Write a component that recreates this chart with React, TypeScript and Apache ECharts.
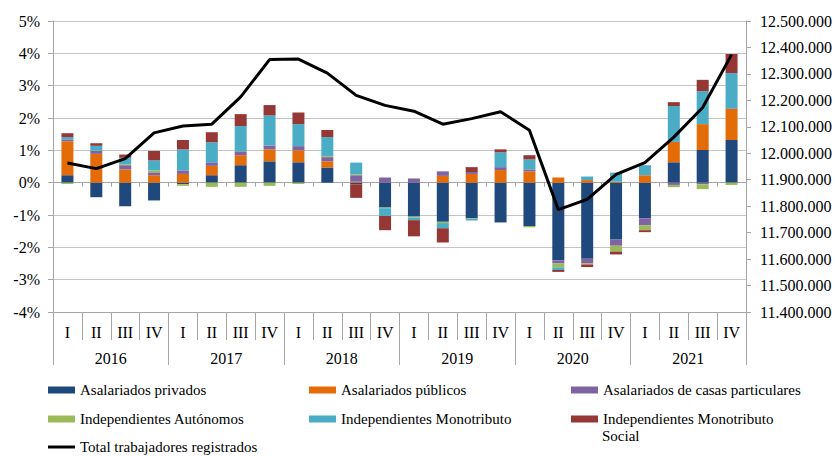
import React, { useEffect, useRef } from "react";
import * as echarts from "echarts";

const quarters = ["I","II","III","IV","I","II","III","IV","I","II","III","IV","I","II","III","IV","I","II","III","IV","I","II","III","IV"];
const years = ["2016", "2017", "2018", "2019", "2020", "2021"];
const leftTicks = { min: -4, max: 5, interval: 1 };
const rightTicks = { min: 11400000, max: 12500000, interval: 100000 };

const privados = [0.23,-0.45,-0.73,-0.55,-0.05,0.23,0.54,0.66,0.63,0.47,-0.05,-0.77,-1.05,-1.21,-1.10,-1.23,-1.34,-2.40,-2.35,-1.76,-1.10,0.63,1.01,1.32];
const publicos = [1.05,0.89,0.41,0.23,0.27,0.29,0.31,0.37,0.37,0.19,0.03,0,0,0.21,0.27,0.39,0.35,0.16,0.08,0.03,0.23,0.63,0.80,0.96];
const casas = [0.06,0.09,0.13,0.09,0.11,0.11,0.12,0.12,0.13,0.13,0.20,0.16,0.13,0.14,0.06,0.09,0.06,-0.10,-0.15,-0.19,-0.22,-0.07,-0.05,0.02];
const autonomos = [-0.04,0.01,0.03,0.06,-0.05,-0.13,-0.13,-0.10,-0.04,0.03,0.03,-0.02,-0.03,-0.04,-0.02,0,-0.04,-0.12,-0.03,-0.18,-0.15,-0.07,-0.15,-0.07];
const monotributo = [0.07,0.15,0.20,0.31,0.65,0.62,0.78,0.93,0.68,0.59,0.36,-0.24,-0.08,-0.16,-0.05,0.46,0.31,-0.08,0.11,0.28,0.31,1.11,1.02,1.09];
const social = [0.12,0.08,0.10,0.29,0.29,0.31,0.37,0.32,0.36,0.22,-0.42,-0.44,-0.50,-0.44,0.15,0.09,0.13,-0.06,-0.08,-0.09,-0.06,0.12,0.35,0.59];
const total = [11963000,11942000,11980000,12077000,12103000,12110000,12213000,12354000,12356000,12303000,12219000,12181000,12159000,12110000,12131000,12157000,12087000,11787000,11826000,11920000,11965000,12061000,12173000,12373000];

const FONT = "Liberation Serif";
const GRAY = "#a6a6a6";

const barSeries = [
  { name: "Asalariados privados", data: privados, color: "#1F497D" },
  { name: "Asalariados públicos", data: publicos, color: "#E36C09" },
  { name: "Asalariados de casas particulares", data: casas, color: "#8064A2" },
  { name: "Independientes Autónomos", data: autonomos, color: "#9BBB59" },
  { name: "Independientes Monotributo", data: monotributo, color: "#4BACC6" },
  { name: "Independientes Monotributo Social", data: social, color: "#953735" },
];
const lineName = "Total trabajadores registrados";

const legendPos = [
  { name: barSeries[0].name, left: 48, y: 390 },
  { name: barSeries[1].name, left: 309, y: 390 },
  { name: barSeries[2].name, left: 571, y: 390 },
  { name: barSeries[3].name, left: 48, y: 419 },
  { name: barSeries[4].name, left: 309, y: 419 },
  { name: barSeries[5].name, left: 571, y: 419 },
  { name: lineName, left: 48, y: 447 },
];

const fmtThousands = (v: number) => String(v).replace(/\B(?=(\d{3})+(?!\d))/g, ".");

export default function App() {
  const ref = useRef<HTMLDivElement>(null);
  useEffect(() => {
    if (!ref.current) return;
    const chart = echarts.init(ref.current, null, { renderer: "svg" });
    const option: any = {
      animation: false,
      backgroundColor: "#ffffff",
      textStyle: { fontFamily: FONT },
      grid: { left: 53, top: 21, width: 695, height: 291, containLabel: false },
      legend: legendPos.map((l) => {
        const isLine = l.name === lineName;
        return {
          data: [l.name],
          left: l.left,
          top: l.y - 9,
          padding: 0,
          itemWidth: 27,
          itemHeight: isLine ? 3 : 7,
          icon: "rect",
          selectedMode: false,
          formatter: (n: string) => (n === "Independientes Monotributo Social" ? "Independientes Monotributo" : n),
          textStyle: { fontFamily: FONT, fontSize: 15, color: "#000", lineHeight: 18 },
        };
      }),
      graphic: [
        {
          type: "text",
          left: 602,
          top: 437 - 9,
          style: { text: "Social", fontFamily: FONT, fontSize: 15, fill: "#000" },
        },
      ],
      xAxis: [
        {
          type: "category",
          data: quarters,
          position: "bottom",
          axisLine: { onZero: false, lineStyle: { color: GRAY, width: 1 } },
          axisTick: { show: true, length: 28, lineStyle: { color: GRAY } },
          axisLabel: { margin: 12, fontSize: 16, color: "#000", fontFamily: FONT, interval: 0 },
          splitLine: { show: false },
        },
        {
          type: "category",
          data: years,
          position: "bottom",
          axisLine: { onZero: false, lineStyle: { color: GRAY, width: 1 } },
          axisTick: { show: true, length: 53, lineStyle: { color: GRAY } },
          axisLabel: { margin: 38, fontSize: 16, color: "#000", fontFamily: FONT, interval: 0 },
          splitLine: { show: false },
        },
        {
          type: "category",
          data: quarters,
          position: "bottom",
          axisLine: { onZero: true, onZeroAxisIndex: 0, lineStyle: { color: GRAY, width: 1 } },
          axisTick: { show: true, length: 4, lineStyle: { color: GRAY } },
          axisLabel: { show: false },
          splitLine: { show: false },
        },
      ],
      yAxis: [
        {
          type: "value",
          min: leftTicks.min,
          max: leftTicks.max,
          interval: leftTicks.interval,
          position: "left",
          axisLine: { show: true, lineStyle: { color: GRAY } },
          axisTick: { show: true, length: 5, lineStyle: { color: GRAY } },
          axisLabel: { formatter: "{value}%", margin: 13, fontSize: 16, color: "#000", fontFamily: FONT },
          splitLine: { show: true, lineStyle: { color: "#c4c4c4", width: 1 } },
        },
        {
          type: "value",
          min: rightTicks.min,
          max: rightTicks.max,
          interval: rightTicks.interval,
          position: "right",
          axisLine: { show: true, lineStyle: { color: GRAY } },
          axisTick: { show: true, length: 5, lineStyle: { color: GRAY } },
          axisLabel: { formatter: (v: number) => fmtThousands(v), margin: 14, fontSize: 16, color: "#000", fontFamily: FONT },
          splitLine: { show: false },
        },
      ],
      series: [
        ...barSeries.map((s) => ({
          name: s.name,
          type: "bar",
          stack: "total",
          xAxisIndex: 0,
          yAxisIndex: 0,
          barWidth: 12,
          data: s.data,
          itemStyle: { color: s.color },
          emphasis: { disabled: true },
        })),
        {
          name: lineName,
          type: "line",
          xAxisIndex: 0,
          yAxisIndex: 1,
          data: total,
          symbol: "none",
          z: 10,
          lineStyle: { color: "#000", width: 3 },
          itemStyle: { color: "#000" },
          emphasis: { disabled: true },
        },
      ],
    };
    chart.setOption(option);
    return () => chart.dispose();
  }, []);
  return <div ref={ref} style={{ position: "fixed", left: 0, top: 0, width: 835, height: 456 }} />;
}
